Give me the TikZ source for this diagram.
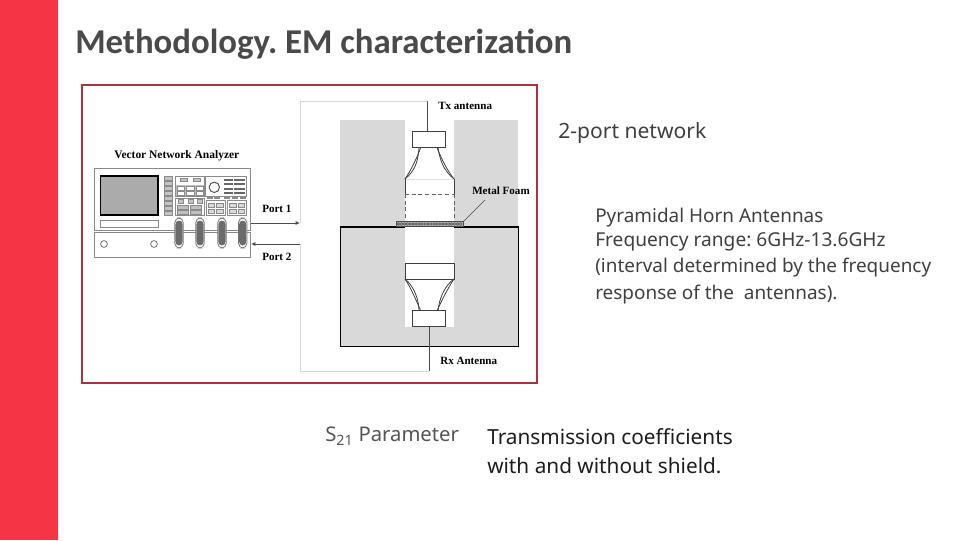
\documentclass[tikz,border=0pt]{standalone}
\usepackage{fontspec}
\setmainfont{Noto Sans}
\newfontfamily\titlefont{Carlito}
\newfontfamily\figfont{Liberation Serif}
\definecolor{barred}{HTML}{F43545}
\definecolor{framered}{HTML}{A8323E}
\definecolor{bodyink}{HTML}{404040}
\definecolor{darkink}{HTML}{1E1E1E}
\definecolor{softink}{HTML}{555555}
\definecolor{titleink}{HTML}{4A4A4A}
\definecolor{fieldgrey}{HTML}{D9D9D9}
\definecolor{wirelight}{HTML}{D8D8D8}
\definecolor{panelline}{HTML}{8A8A8A}
\definecolor{keyfill}{HTML}{C4C4C4}
\usetikzlibrary{arrows.meta}
\tikzset{
  x=0.75pt,y=-0.75pt,
  titletext/.style={anchor=west,inner sep=0,text=titleink,font=\titlefont\bfseries\fontsize{26.1}{28}\selectfont},
  bodytext/.style={anchor=west,inner sep=0,text=bodyink,font=\fontsize{14.2}{18}\selectfont},
  figlabel/.style={anchor=west,inner sep=0,text=black,font=\figfont\bfseries\fontsize{8.3}{9}\selectfont},
  panel/.style={draw=panelline,line width=0.7pt,fill=white},
  keyb/.style={draw=panelline,line width=0.4pt,fill=keyfill},
  wirelt/.style={draw=wirelight,line width=0.7pt},
  wiredk/.style={draw=black!70,line width=0.7pt},
  feed/.style={wiredk,-{Latex[length=3.2pt,width=3pt]}},
  hornline/.style={draw=black!75,line width=0.6pt},
}
\frenchspacing
\begin{document}
\begin{tikzpicture}
\useasboundingbox (0,0) rectangle (960,540);
\fill[white] (0,0) rectangle (960,540);
\fill[barred] (0,0) rectangle (58,540);
\node[titletext] (title) at (75,44.5) {Methodology. EM characterization};
% frame
\draw[framered,line width=0.9pt,fill=white] (82,85) rectangle (537,383);
% gray field
\fill[fieldgrey] (340,120) rectangle (405,227);
\fill[fieldgrey] (454,120) rectangle (518,227);
\draw[black,line width=0.9pt,fill=fieldgrey] (340.5,227) rectangle (518.7,346.7);
\fill[white] (405,226) rectangle (454,326.7);
% named wire points
\coordinate (p1) at (251,223);
\coordinate (p1c) at (300,223);
\coordinate (p1t) at (300,101);
\coordinate (txt) at (427,101);
\coordinate (txb) at (427,131.7);
\coordinate (p2) at (251,244);
\coordinate (p2c) at (300,244);
\coordinate (p2b) at (300,371);
\coordinate (rxb) at (429,371);
\coordinate (rxt) at (429,326.7);
\draw[wirelt] (p1c) -- (p1t) -- (txt);
\draw[wirelt] (p2c) -- (p2b) -- (rxb);
\draw[wiredk] (txt) -- (txb);
\draw[wiredk] (rxt) -- (rxb);
\draw[feed] (p1) -- (p1c);
\draw[feed] (p2c) -- (p2);
% Tx horn
\draw[hornline,fill=white] (412,131.7) rectangle (445.7,147.7);
\draw[hornline] (420.7,147.7) .. controls (416,160) and (411,170) .. (405,179);
\draw[hornline] (419,147.7) .. controls (418,160) and (416,170) .. (405,179);
\draw[hornline] (437,147.7) .. controls (442,160) and (447,170) .. (454,179);
\draw[hornline] (438,147.7) .. controls (440,160) and (443,170) .. (454,179);
\draw[black!12,line width=0.6pt] (405,179) -- (454,179);
\draw[hornline] (405,179) -- (405,194) (454,179) -- (454,194);
\draw[black!60,line width=0.6pt,densely dashed] (405,194) -- (454,194) (405,194) -- (405,221) (454,194) -- (454,221);
% metal foam
\draw[black!70,line width=0.5pt,fill=black!30] (396,221.5) rectangle (463,226.7);
\foreach \i in {0,...,21}{\draw[black!70,line width=0.35pt] (398.5+\i*2.95,224) circle (1.3);}
\coordinate (foamend) at (463,222);
\coordinate (foamlead) at (485,200);
\draw[black!70,line width=0.5pt] (foamend) -- (foamlead);
% Rx horn
\draw[hornline,fill=white] (405,263) rectangle (454,279);
\draw[hornline,fill=white] (412,310.7) rectangle (445.7,326.7);
\draw[hornline] (405,279) .. controls (411,288) and (416,300) .. (420.7,310.7);
\draw[hornline] (405,279) .. controls (414,286) and (419,300) .. (419,310.7);
\draw[hornline] (454,279) .. controls (448,288) and (442,300) .. (437,310.7);
\draw[hornline] (454,279) .. controls (444,286) and (439,300) .. (438,310.7);
% VNA
\draw[panel] (94,168) rectangle (250.7,230.7);
\draw[panel] (94,232.7) rectangle (250.7,257);
\draw[black,line width=1pt,fill=black!33] (100.7,176) rectangle (158,215);
\draw[panelline,line width=0.5pt] (100.7,220.7) rectangle (158,227);
\foreach \i in {0,...,7}{\draw[keyb] (164.5,176.5+\i*4.95) rectangle (172,180.5+\i*4.95);}
% group A
\draw[panel,line width=0.5pt] (175.3,176) rectangle (204,196.7);
\fill[black!25] (175.6,185) rectangle (203.7,196.4);
\foreach \x in {180.5,193.5}{\draw[keyb] (\x,178) rectangle (\x+7,181);}
\foreach \x in {177,186.5,196}{\foreach \y in {186,191}{\draw[keyb,fill=white] (\x,\y) rectangle (\x+7.5,\y+4);}}
% group B
\draw[panel,line width=0.5pt] (175.3,198.3) rectangle (204,215);
\foreach \x in {178,188,197}{\draw[keyb] (\x,199.5) rectangle (\x+5,203);}
\foreach \x in {177,190.5}{\foreach \y in {205,210}{\draw[keyb,fill=black!25] (\x,\y) rectangle (\x+11,\y+4);}}
% group C
\draw[panel,line width=0.5pt] (205.3,176) rectangle (246.7,196.7);
\draw[black!70,line width=0.7pt] (214.3,187.3) circle (5.2);
\foreach \y in {178.5,183,187.5,191.5}{\fill[black!60] (224,\y) rectangle (232.5,\y+2); \fill[black!60] (234,\y) rectangle (245,\y+2);}
\foreach \x in {207,214,224,232,240}{\fill[black!45] (\x,196.5) rectangle (\x+5.5,198.5);}
% group D, E
\foreach \a/\b in {206/225.3,227.3/246.7}{
  \draw[panel,line width=0.5pt] (\a,200.7) rectangle (\b,215);
  \foreach \y in {203,209}{
    \draw[keyb,fill=black!15] (\a+2,\y) rectangle (\a+8.5,\y+4.5);
    \draw[keyb,fill=black!15] (\a+10.5,\y) rectangle (\a+17,\y+4.5);}
}
% port capsules
\foreach \x in {179,200,222,242.7}{
  \draw[black!55,line width=0.6pt,fill=white,rounded corners=3.5pt] (\x-4.2,218) rectangle (\x+4.2,248);
  \fill[black!58,rounded corners=2.8pt] (\x-3.6,220.5) rectangle (\x+3.6,245.5);
}
\draw[black!55,line width=0.6pt] (104,244) circle (3.4);
\draw[black!55,line width=0.6pt] (154,244) circle (3.4);
% figure labels
\node[figlabel,font=\figfont\bfseries\fontsize{8.6}{9}\selectfont] (vna) at (114,156) {Vector Network Analyzer};
\node[figlabel] (port1) at (262,209) {Port 1};
\node[figlabel] (port2) at (262,257) {Port 2};
\node[figlabel] (txl) at (438,106) {Tx antenna};
\node[figlabel] (foaml) at (472,191) {Metal Foam};
\node[figlabel] (rxl) at (440,361) {Rx Antenna};
% body text
\node[bodytext,text=darkink!85,font=\fontsize{15.8}{18}\selectfont] (net) at (558,133) {2-port network};
\node[bodytext] (l1) at (595,218) {Pyramidal Horn Antennas};
\node[bodytext,font=\fontsize{14.35}{18}\selectfont] (l2) at (595,242) {Frequency range: 6GHz-13.6GHz};
\node[bodytext] (l3) at (595,268) {(interval determined by the frequency};
\node[bodytext] (l4) at (595,295) {response of the\ \ antennas).};
\node[bodytext,text=softink,font=\fontsize{15.2}{18}\selectfont] (s21) at (325,436) {S\textsubscript{21} Parameter};
\node[bodytext,text=darkink,font=\fontsize{15.6}{18}\selectfont] (t1) at (487,437) {Transmission coefficients};
\node[bodytext,text=darkink,font=\fontsize{15.6}{18}\selectfont] (t2) at (487,466) {with and without shield.};
\end{tikzpicture}
\end{document}
